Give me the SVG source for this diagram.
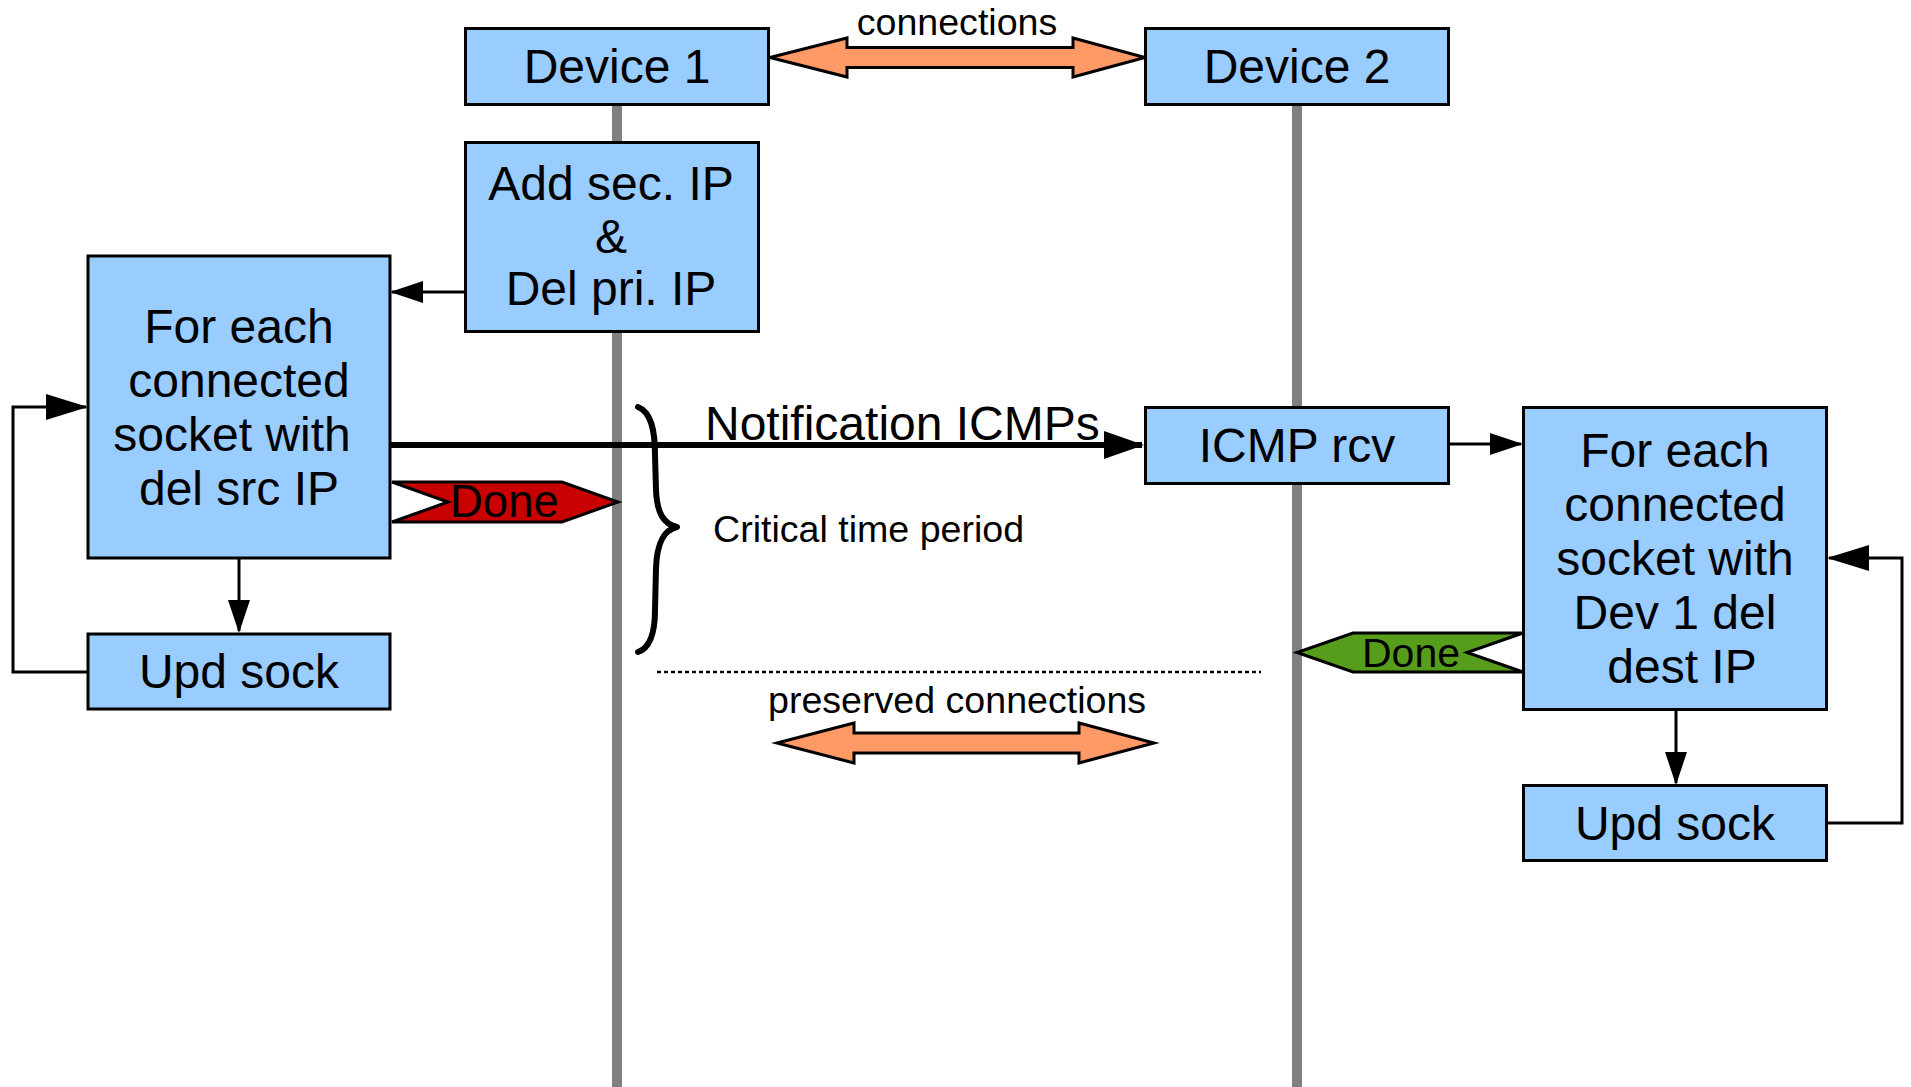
<svg xmlns="http://www.w3.org/2000/svg" width="1911" height="1087" viewBox="0 0 1911 1087">
<style>
text{font-family:"Liberation Sans",Arial,sans-serif;fill:#000}
.box{fill:#99ccff;stroke:#000;stroke-width:3}
.lbl{font-size:48px;text-anchor:middle}
.life{stroke:#808080;stroke-width:10;fill:none}
.conn{stroke:#000;stroke-width:3;fill:none}
.dbl{fill:#ff9966;stroke:#000;stroke-width:3;stroke-linejoin:miter}
.small{font-size:37.6px}
</style>
<defs>
<marker id="big" markerUnits="userSpaceOnUse" viewBox="0 0 42 26" refX="40" refY="13" markerWidth="42" markerHeight="26" orient="auto"><path d="M0,0 L42,13 L0,26 Z" fill="#000"/></marker>
<marker id="med" markerUnits="userSpaceOnUse" viewBox="0 0 33 22" refX="31" refY="11" markerWidth="33" markerHeight="22" orient="auto"><path d="M0,0 L33,11 L0,22 Z" fill="#000"/></marker>
<marker id="notif" markerUnits="userSpaceOnUse" viewBox="0 0 40 28" refX="38" refY="14" markerWidth="40" markerHeight="28" orient="auto"><path d="M0,0 L40,14 L0,28 Z" fill="#000"/></marker>
</defs>
<rect width="1911" height="1087" fill="#fff"/>
<g id="lifelines">
<line class="life" x1="617" y1="104" x2="617" y2="1087"/>
<line class="life" x1="1297" y1="104" x2="1297" y2="1087"/>
</g>
<g id="connectors">
<line class="conn" x1="465" y1="292" x2="392" y2="292" marker-end="url(#med)"/>
<line class="conn" x1="239" y1="558" x2="239" y2="631" marker-end="url(#med)"/>
<path class="conn" d="M88,672 L13,672 L13,407 L86,407" marker-end="url(#big)"/>
<line stroke="#000" stroke-width="6" x1="390" y1="445" x2="1142" y2="445" marker-end="url(#notif)"/>
<line class="conn" x1="1449" y1="444" x2="1521" y2="444" marker-end="url(#med)"/>
<line class="conn" x1="1676" y1="710" x2="1676" y2="783" marker-end="url(#med)"/>
<path class="conn" d="M1827,823 L1902,823 L1902,558 L1829,558" marker-end="url(#big)"/>
<polygon class="dbl" points="770,57.5 847,38 847,47.5 1073,47.5 1073,38 1145,57.5 1073,77 1073,67.5 847,67.5 847,77"/>
<polygon class="dbl" points="777,743 854,723 854,733 1079,733 1079,723 1154,743 1079,763 1079,753 854,753 854,763"/>
<line x1="657" y1="672" x2="1261" y2="672" stroke="#000" stroke-width="2.5" stroke-dasharray="4 3"/>
<path d="M638,407 C651,412 655,430 655,455 L656,490 C657,514 664,524 677,527 C664,530 657,542 656,568 L655,610 C655,634 650,648 638,652" fill="none" stroke="#000" stroke-width="6" stroke-linecap="round" stroke-linejoin="round"/>
</g>
<g id="device1"><rect class="box" x="465.5" y="28.5" width="303" height="76"/><text class="lbl" x="617" y="83">Device 1</text></g>
<g id="device2"><rect class="box" x="1145.5" y="28.5" width="303" height="76"/><text class="lbl" x="1297" y="83">Device 2</text></g>
<g id="connections-label"><text class="small" x="957" y="35" text-anchor="middle">connections</text></g>
<g id="add-del"><rect class="box" x="465.5" y="142.5" width="293" height="189"/>
<text class="lbl" x="611" y="200">Add sec. IP</text><text class="lbl" x="611" y="253">&amp;</text><text class="lbl" x="611" y="305">Del pri. IP</text></g>
<g id="foreach1"><rect class="box" x="88" y="256" width="302" height="302"/>
<text class="lbl" x="239" y="343">For each</text><text class="lbl" x="239" y="397">connected</text><text class="lbl" x="232" y="451">socket with</text><text class="lbl" x="239" y="505">del src IP</text></g>
<g id="updsock1"><rect class="box" x="88" y="634" width="302" height="75"/><text class="lbl" x="239" y="688">Upd sock</text></g>
<g id="done1"><path d="M392,482 L562,482 L618,502 L562,522 L392,522 L448,502 Z" fill="#c80000" stroke="#000" stroke-width="3"/><text x="450" y="517" font-size="45.5">Done</text></g>
<g id="notification-label"><text x="705" y="440" font-size="48">Notification ICMPs</text></g>
<g id="critical"><text class="small" x="713" y="542">Critical time period</text></g>
<g id="preserved"><text class="small" x="768" y="713">preserved connections</text></g>
<g id="icmprcv"><rect class="box" x="1145.5" y="407.5" width="303" height="76"/><text class="lbl" x="1297" y="462">ICMP rcv</text></g>
<g id="foreach2"><rect class="box" x="1523.5" y="407.5" width="303" height="302"/>
<text class="lbl" x="1675" y="467">For each</text><text class="lbl" x="1675" y="521">connected</text><text class="lbl" x="1675" y="575">socket with</text><text class="lbl" x="1675" y="629">Dev 1 del</text><text class="lbl" x="1682" y="683">dest IP</text></g>
<g id="done2"><path d="M1523,633 L1353,633 L1297,652.5 L1353,672 L1523,672 L1467,652.5 Z" fill="#579d1c" stroke="#000" stroke-width="3"/><text x="1362" y="667" font-size="41">Done</text></g>
<g id="updsock2"><rect class="box" x="1523.5" y="785.5" width="303" height="75"/><text class="lbl" x="1675" y="840">Upd sock</text></g>
</svg>
